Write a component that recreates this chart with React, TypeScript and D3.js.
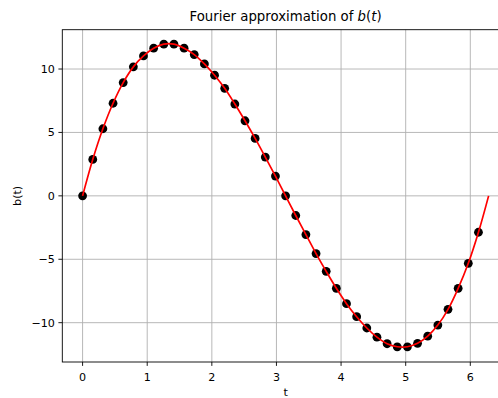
import React from 'react';
import * as d3 from 'd3';

// sample times are k * pi / 20, k = 0..39
const sampleIndex = d3.range(40);
const sampleValues = [
  0, 2.87, 5.29, 7.3, 8.93, 10.17, 11.03, 11.64, 11.96, 11.96,
  11.64, 11.14, 10.4, 9.51, 8.48, 7.24, 5.92, 4.53, 3.06, 1.56,
  0, -1.55, -3.05, -4.55, -5.95, -7.29, -8.5, -9.53, -10.42, -11.14,
  -11.66, -11.9, -11.9, -11.63, -11.06, -10.19, -8.95, -7.29, -5.32, -2.87,
];
// fitted curve ends back at zero at t = 2*pi
const fitEndValue = 0;

const xTicks = [0, 1, 2, 3, 4, 5, 6];
const yTicks = [-10, -5, 0, 5, 10];

const W = 498;
const H = 398;
const FONT = 'DejaVu Sans, sans-serif';

export default function App() {
  const left = 62.3;
  const right = 508.9;
  const top = 29.7;
  const bottom = 362;

  const tOf = (k: number) => (k * Math.PI) / 20;
  const x = d3.scaleLinear().domain([-0.314, 2 * Math.PI + 0.314]).range([left, right]);
  const y = d3.scaleLinear().domain([-13.1, 13.1]).range([bottom, top]);

  const pts: [number, number][] = sampleIndex.map((k) => [tOf(k), sampleValues[k]]);
  const fitPts: [number, number][] = [...pts, [2 * Math.PI, fitEndValue]];

  const line = d3
    .line<[number, number]>()
    .x((d) => x(d[0]))
    .y((d) => y(d[1]))
    .curve(d3.curveCatmullRom);

  return (
    <svg
      width={W}
      height={H}
      style={{ position: 'fixed', left: 0, top: 0, background: '#fff' }}
      fontFamily={FONT}
    >
      <defs>
        <clipPath id="plot">
          <rect x={left} y={top} width={right - left} height={bottom - top} />
        </clipPath>
      </defs>
      <rect width={W} height={H} fill="#fff" />

      {/* grid */}
      {xTicks.map((t) => (
        <line key={'gx' + t} x1={x(t)} x2={x(t)} y1={top} y2={bottom} stroke="#b0b0b0" strokeWidth={0.9} />
      ))}
      {yTicks.map((t) => (
        <line key={'gy' + t} x1={left} x2={right} y1={y(t)} y2={y(t)} stroke="#b0b0b0" strokeWidth={0.9} />
      ))}

      {/* samples */}
      <g clipPath="url(#plot)">
        {pts.map((d, i) => (
          <circle key={i} cx={x(d[0])} cy={y(d[1])} r={4.4} fill="#000" />
        ))}
        <path d={line(fitPts) ?? ''} fill="none" stroke="#ff0000" strokeWidth={1.7} />
      </g>

      {/* spines */}
      <rect x={left} y={top} width={right - left} height={bottom - top} fill="none" stroke="#000" strokeWidth={0.9} />

      {/* x ticks */}
      {xTicks.map((t) => (
        <g key={'xt' + t}>
          <line x1={x(t)} x2={x(t)} y1={bottom} y2={bottom + 3.9} stroke="#000" strokeWidth={0.9} />
          <text x={x(t)} y={bottom + 18.5} textAnchor="middle" fontSize={11.1} fill="#000">
            {t}
          </text>
        </g>
      ))}
      {/* y ticks */}
      {yTicks.map((t) => (
        <g key={'yt' + t}>
          <line x1={left - 3.9} x2={left} y1={y(t)} y2={y(t)} stroke="#000" strokeWidth={0.9} />
          <text x={left - 7.5} y={y(t)} dy="0.36em" textAnchor="end" fontSize={11.1} fill="#000">
            {t < 0 ? '\u2212' + Math.abs(t) : t}
          </text>
        </g>
      ))}

      {/* labels */}
      <text x={(left + right) / 2} y={396} textAnchor="middle" fontSize={11.1} fill="#000">
        t
      </text>
      <text
        transform={`translate(20.5,${(top + bottom) / 2}) rotate(-90)`}
        textAnchor="middle"
        fontSize={11.1}
        fill="#000"
      >
        b(t)
      </text>
      <text x={(left + right) / 2} y={21} textAnchor="middle" fontSize={13.3} fill="#000">
        Fourier approximation of <tspan fontStyle="italic">b</tspan>(<tspan fontStyle="italic">t</tspan>)
      </text>
    </svg>
  );
}
